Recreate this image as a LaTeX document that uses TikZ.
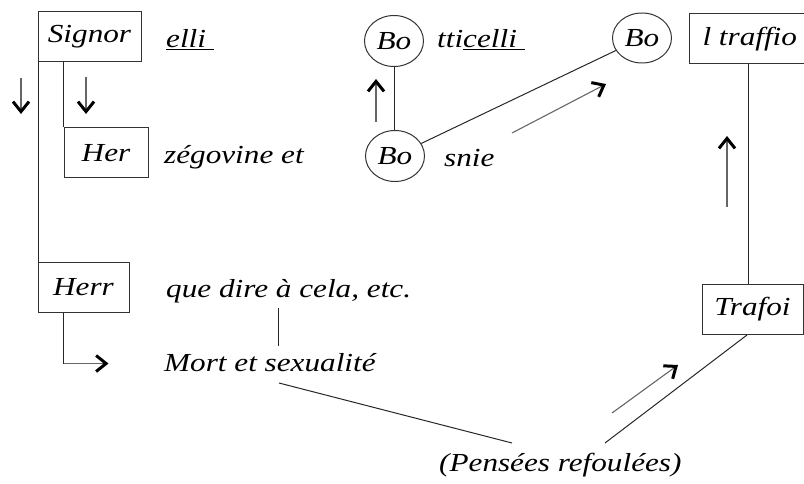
\documentclass[tikz,border=0pt]{standalone}
\usepackage{fontspec}
\usepackage{graphicx}
\setmainfont{Liberation Serif}
\usetikzlibrary{arrows.meta,shapes.geometric}
\newcommand{\sx}[1]{\scalebox{1.2}[1]{#1}}
\tikzset{
  lbl/.style={font=\fontsize{26}{30}\selectfont\itshape, inner sep=0pt, anchor=base west},
  boxn/.style={draw=black!80, line width=1pt, font=\fontsize{26}{30}\selectfont\itshape, minimum height=50pt, inner sep=0pt},
  bon/.style={ellipse, draw=black!80, line width=1pt, font=\fontsize{26}{30}\selectfont\itshape, minimum width=59pt, minimum height=51pt, inner sep=0pt},
  conn/.style={draw=black!85, line width=1pt},
  sarrow/.style={draw=black!60, line width=1.1pt, arrows={-Straight Barb[length=10pt,width=16pt,line width=3pt,black]}}
}
\begin{document}
\begin{tikzpicture}[x=1pt,y=-1pt]
\useasboundingbox (0,0) rectangle (804,484);
\clip (0,0) rectangle (804,484);
% boxes
\node[boxn, minimum width=103pt] (signor) at (89.5,37) {\sx{Signor}};
\node[boxn, minimum width=84pt] (her) at (106,153) {\sx{Her}};
\node[boxn, minimum width=91pt] (herr) at (83.5,287) {\sx{Herr}};
\node[boxn, minimum width=101pt] (trafoi) at (752.5,309.5) {\sx{Trafoi}};
\node[boxn, anchor=west, inner xsep=13pt] (traffio) at (689,39) {\sx{l traffio}};
% ellipses
\node[bon] (bo1) at (394,41) {\sx{Bo}};
\node[bon] (bo2) at (395,156) {\sx{Bo}};
\node[bon, minimum height=50pt] (bo3) at (642,38) {\sx{Bo}};
% labels
\node[lbl] (elli) at (166,48) {\sx{\underline{elli\ }}};
\node[lbl] (tticelli) at (437,48) {\sx{tti\underline{celli\ }}};
\node[lbl] (zego) at (164,164) {\sx{zégovine et}};
\node[lbl] (snie) at (444,167) {\sx{snie}};
\node[lbl] (que) at (166,297) {\sx{que dire à cela, etc.}};
\node[lbl] (mort) at (164,371) {\sx{Mort et sexualité}};
\node[lbl] (pens) at (439,471) {\sx{(Pensées refoulées)}};
% coordinates
\coordinate (q1) at (278,308);
\coordinate (q2) at (278,346);
\coordinate (m1) at (279,383);
\coordinate (p1) at (512,443);
\coordinate (p2) at (605,443);
\coordinate (t1) at (747,335);
% connectors
\draw[conn] ([xshift=1pt]signor.south west) -- ([xshift=1pt]signor.south west |- herr.north);
\draw[conn] (signor.south -| her.north west) -- (her.north west);
\draw[conn] ([xshift=-20pt]herr.south) -- ++(0,51) coordinate (hc);
\draw[sarrow] (hc) -- ++(45,0);
\draw[conn] (bo1.south) -- (bo1.south |- bo2.north);
\draw[conn] (bo2) -- (bo3);
\draw[conn] ([xshift=-4.5pt]trafoi.north) -- ([xshift=-4.5pt]trafoi.north |- traffio.south);
\draw[conn] (q1) -- (q2);
\draw[conn] (m1) -- (p1);
\draw[conn] (t1) -- (p2);
% arrows
\draw[sarrow] (21,78) -- (21,114);
\draw[sarrow] (86,77) -- (86,114);
\draw[sarrow] (376,122) -- (376,79);
\draw[sarrow] (512,133) -- (606,84);
\draw[sarrow] (727,207) -- (727,136);
\draw[sarrow] (612,413) -- (678,365);
\end{tikzpicture}
\end{document}
